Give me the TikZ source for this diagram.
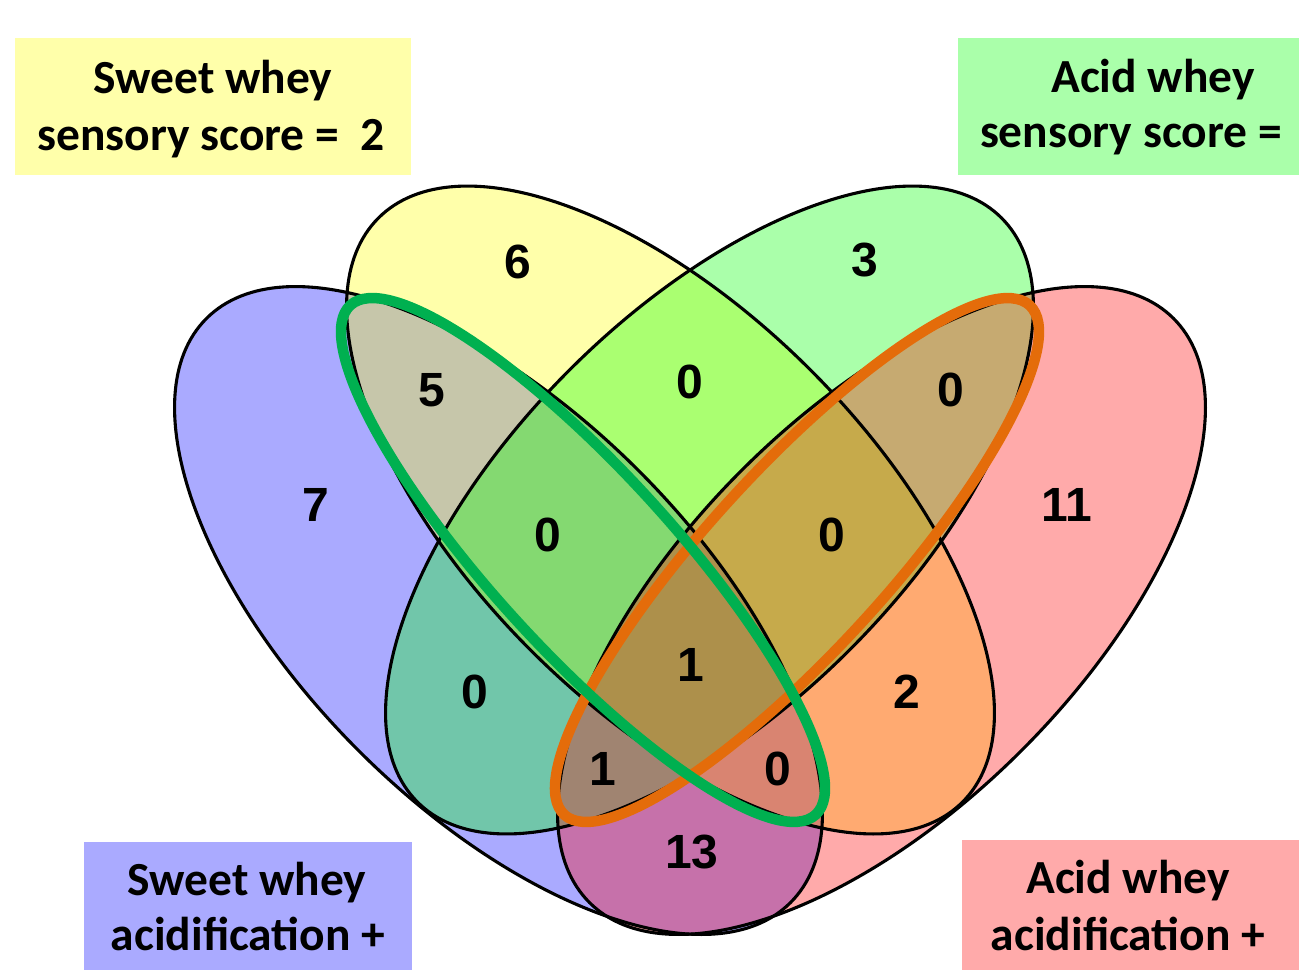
\documentclass[tikz,border=0pt]{standalone}
\usepackage{fontspec}
\setmainfont{Carlito}
\newfontfamily\numfont{Liberation Sans}
\definecolor{pureblue}{RGB}{0,0,255}
\definecolor{pureyellow}{RGB}{255,255,0}
\definecolor{puregreen}{RGB}{0,255,0}
\definecolor{purered}{RGB}{255,0,0}
\definecolor{boxyellow}{RGB}{255,255,170}
\definecolor{boxgreen}{RGB}{170,255,170}
\definecolor{boxblue}{RGB}{170,170,255}
\definecolor{boxred}{RGB}{255,170,170}
\definecolor{hlgreen}{RGB}{0,176,80}
\definecolor{hlorange}{RGB}{228,108,10}
\begin{document}
\begin{tikzpicture}[x=1pt,y=-1pt,
  setfill/.style={fill=#1, fill opacity=0.3333},
  setline/.style={draw=black, line width=3.1pt},
  hilite/.style={draw=#1, line width=10.5pt},
  num/.style={font=\numfont\bfseries\fontsize{48}{48}\selectfont, inner sep=0pt},
  lbl/.style={font=\bfseries\fontsize{47.5}{57}\selectfont, inner sep=0pt, anchor=base},
  lblbox/.style={fill=#1, draw=none, inner sep=0pt, anchor=north west}]
\useasboundingbox (0,0) rectangle (1299,970);
\fill[white] (0,0) rectangle (1299,970);

% set centres
\coordinate (cA) at (498.5,610.5);
\coordinate (cB) at (670.5,510);
\coordinate (cC) at (709.5,510);
\coordinate (cD) at (881.5,610.5);
\coordinate (cG) at (583,560);
\coordinate (cO) at (797,560);

% fills
\fill[setfill=pureblue, rotate around={-45:(cA)}] (cA) ellipse [x radius=413pt, y radius=198pt];
\fill[setfill=pureyellow, rotate around={-45:(cB)}] (cB) ellipse [x radius=413pt, y radius=198pt];
\fill[setfill=puregreen, rotate around={45:(cC)}] (cC) ellipse [x radius=413pt, y radius=198pt];
\fill[setfill=purered, rotate around={45:(cD)}] (cD) ellipse [x radius=413pt, y radius=198pt];

% outlines
\draw[setline, rotate around={-45:(cA)}] (cA) ellipse [x radius=413pt, y radius=198pt];
\draw[setline, rotate around={-45:(cB)}] (cB) ellipse [x radius=413pt, y radius=198pt];
\draw[setline, rotate around={45:(cC)}] (cC) ellipse [x radius=413pt, y radius=198pt];
\draw[setline, rotate around={45:(cD)}] (cD) ellipse [x radius=413pt, y radius=198pt];

% highlight ellipses
\draw[hilite=hlorange, rotate around={47.6:(cO)}] (cO) ellipse [x radius=345pt, y radius=90pt];
\draw[hilite=hlgreen, rotate around={-47.6:(cG)}] (cG) ellipse [x radius=345pt, y radius=90pt];

% counts
\node[num] (n6)  at (518,262) {6};
\node[num] (n3)  at (865,260) {3};
\node[num] (n7)  at (316,505) {7};
\node[num] (n11) at (1067,505) {11};
\node[num] (n5)  at (432,390) {5};
\node[num] (nYG) at (690,382) {0};
\node[num] (nGR) at (951,390) {0};
\node[num] (nAYG) at (548,535) {0};
\node[num] (nYGR) at (832,535) {0};
\node[num] (nAll) at (691,665) {1};
\node[num] (nAG) at (475,692) {0};
\node[num] (n2)  at (907,692) {2};
\node[num] (nAGR) at (603,769) {1};
\node[num] (nAYR) at (778,769) {0};
\node[num] (n13) at (692,852) {13};

% label boxes
\node[lblbox=boxyellow, minimum width=396pt, minimum height=137pt] (bSY) at (15,38) {};
\node[lblbox=boxgreen, minimum width=341pt, minimum height=137pt] (bAY) at (958,38) {};
\node[lblbox=boxblue, minimum width=328pt, minimum height=128pt] (bSA) at (84,842) {};
\node[lblbox=boxred, minimum width=337pt, minimum height=130pt] (bAA) at (962,840) {};

\node[lbl] (tSY1) at (213,93) {Sweet whey};
\node[lbl] (tSY2) at (211,150) {sensory score = \ 2};
\node[lbl] (tAY1) at (1153,92) {Acid whey};
\node[lbl] (tAY2) at (1131,147) {sensory score =};
\node[lbl] (tSA1) at (247,895) {Sweet whey};
\node[lbl] (tSA2) at (248,950) {acidification +};
\node[lbl] (tAA1) at (1128,893) {Acid whey};
\node[lbl] (tAA2) at (1128,950) {acidification +};
\end{tikzpicture}
\end{document}
